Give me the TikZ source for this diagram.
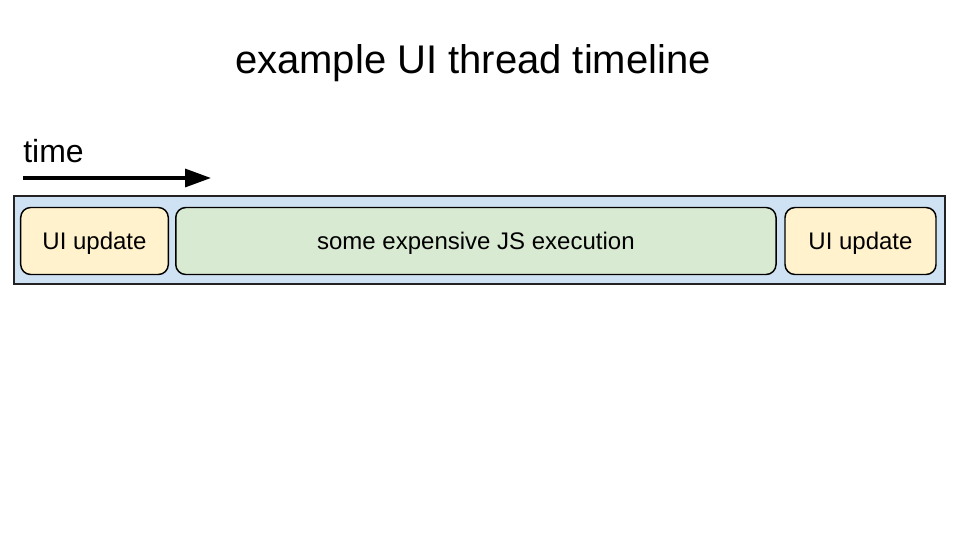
\documentclass[tikz,border=0pt]{standalone}
\usepackage{fontspec}
\setmainfont{Liberation Sans}
\usetikzlibrary{arrows.meta}
\definecolor{bluefill}{HTML}{CFE2F3}
\definecolor{yellowfill}{HTML}{FFF2CC}
\definecolor{greenfill}{HTML}{D9EAD3}
\definecolor{edgegray}{HTML}{222222}
\tikzset{
  boxtext/.style={font=\fontsize{18pt}{20pt}\selectfont, text height=12.9pt, text depth=0pt, inner sep=0pt},
  taskbox/.style={boxtext, draw=black, line width=1.1pt, rounded corners=7.5pt, minimum height=50.25pt},
  uibox/.style={taskbox, fill=yellowfill},
  jsbox/.style={taskbox, fill=greenfill},
  threadbar/.style={draw=edgegray, line width=1.1pt, fill=bluefill, inner sep=0pt},
  timearrow/.style={line width=2.5pt, -{Triangle[length=19.5pt,width=13.5pt]}}
}
\begin{document}
\begin{tikzpicture}[x=0.75pt,y=-0.75pt]
\useasboundingbox (0,0) rectangle (960,540);
\node[anchor=base, font=\fontsize{30pt}{34pt}\selectfont] (title) at (473,73) {example UI thread timeline};
\node[anchor=base west, inner sep=0pt, font=\fontsize{24pt}{28pt}\selectfont] (time) at (23,162) {time};
\coordinate (arrowstart) at (23,178);
\coordinate (arrowend) at (211,178);
\draw[timearrow] (arrowstart) -- (arrowend);
\node[threadbar, minimum width=698.25pt, minimum height=66.2pt] (bar) at (479.5,240) {};
\node[uibox, minimum width=110.7pt] (ui1) at (94.5,241) {UI update};
\node[jsbox, minimum width=450.2pt] (js) at (475.9,241) {some expensive JS execution};
\node[uibox, minimum width=113.25pt] (ui2) at (860.5,241) {UI update};
\end{tikzpicture}
\end{document}
